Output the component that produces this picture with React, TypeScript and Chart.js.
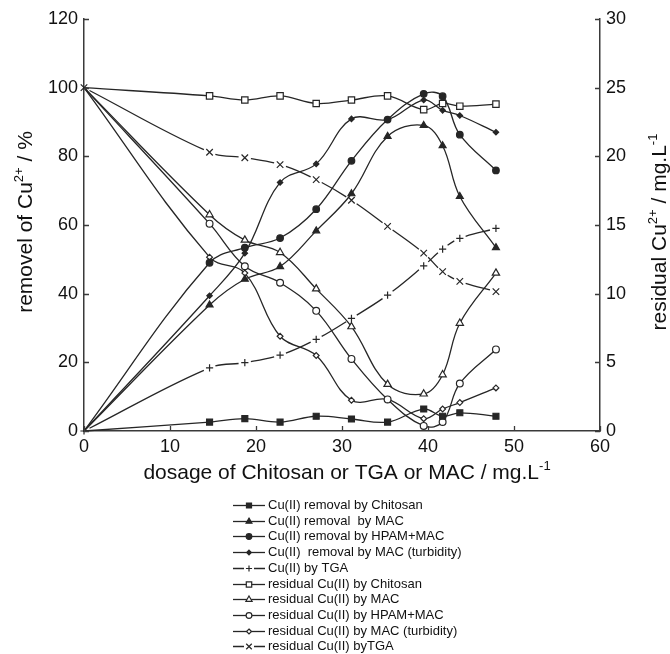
import React, { useEffect, useRef } from 'react';
import { Chart, registerables } from 'chart.js';

Chart.register(...registerables);

// ---------- data ----------
const dosage = [0, 14.6, 18.7, 22.8, 27.0, 31.1, 35.3, 39.5, 41.7, 43.7, 47.9];

const removalChitosan = [0, 2.6, 3.6, 2.6, 4.3, 3.5, 2.6, 6.4, 4.3, 5.3, 4.3];
const removalMAC = [0, 36.7, 44.2, 47.9, 58.3, 69.1, 85.8, 89.0, 83.1, 68.3, 53.4];
const removalHPAM = [0, 49.0, 53.4, 56.2, 64.6, 78.7, 90.7, 98.2, 97.5, 86.3, 75.9];
const removalTurbidity = [0, 39.4, 51.8, 72.4, 77.8, 90.9, 90.7, 96.4, 93.4, 91.9, 87.0];
const removalTGA = [0, 18.4, 19.9, 22.1, 26.7, 32.8, 39.6, 48.1, 53.0, 56.1, 59.0];

const residualChitosan = [25, 24.4, 24.1, 24.4, 23.85, 24.1, 24.4, 23.4, 23.85, 23.65, 23.8];
const residualMAC = [25, 15.75, 13.9, 13.0, 10.35, 7.6, 3.4, 2.7, 4.1, 7.85, 11.5];
const residualHPAM = [25, 15.1, 12.0, 10.8, 8.75, 5.25, 2.3, 0.37, 0.66, 3.46, 5.94];
const residualTurbidity = [25, 12.66, 11.5, 6.9, 5.5, 2.24, 2.3, 0.9, 1.6, 2.07, 3.14];
const residualTGA = [25, 20.3, 19.9, 19.4, 18.3, 16.8, 14.9, 12.95, 11.6, 10.9, 10.15];

const seriesLabels = [
  'Cu(II) removal by Chitosan',
  'Cu(II) removal  by MAC',
  'Cu(II) removal by HPAM+MAC',
  'Cu(II)  removal by MAC (turbidity)',
  'Cu(II) by TGA',
  'residual Cu(II) by Chitosan',
  'residual Cu(II) by MAC',
  'residual Cu(II) by HPAM+MAC',
  'residual Cu(II) by MAC (turbidity)',
  'residual Cu(II) byTGA',
];

const xTicks = [0, 10, 20, 30, 40, 50, 60];
const yLeftTicks = [0, 20, 40, 60, 80, 100, 120];
const yRightTicks = [0, 5, 10, 15, 20, 25, 30];

// ---------- styling ----------
const FONT = '"Liberation Sans", Arial, Helvetica, sans-serif';
const INK = '#262626';
const AXIS = '#3a3a3a';

type Marker = 'rect' | 'triangle' | 'circle' | 'rectRot' | 'cross' | 'crossRot';

const seriesValues = [
  removalChitosan, removalMAC, removalHPAM, removalTurbidity, removalTGA,
  residualChitosan, residualMAC, residualHPAM, residualTurbidity, residualTGA,
];
const seriesAxis = ['y', 'y', 'y', 'y', 'y', 'y1', 'y1', 'y1', 'y1', 'y1'];
const seriesMarker: Marker[] = ['rect', 'triangle', 'circle', 'rectRot', 'cross', 'rect', 'triangle', 'circle', 'rectRot', 'crossRot'];
const seriesFilled = [true, true, true, true, false, false, false, false, false, false];
const seriesRadius = [4.2, 4.0, 3.3, 2.7, 3.6, 4.5, 4.2, 3.4, 2.9, 4.6];
const seriesDashed = [false, false, false, false, true, false, false, false, false, true];

const GAP = 6;

function drawMarker(ctx: CanvasRenderingContext2D, style: Marker, x: number, y: number, r: number, filled: boolean) {
  ctx.save();
  ctx.lineWidth = 1.2;
  ctx.strokeStyle = INK;
  ctx.fillStyle = filled ? INK : '#ffffff';
  ctx.beginPath();
  if (style === 'rect') {
    const s = r * Math.SQRT1_2;
    ctx.rect(x - s, y - s, 2 * s, 2 * s);
  } else if (style === 'triangle') {
    let a = 0;
    ctx.moveTo(x + Math.sin(a) * r, y - Math.cos(a) * r);
    a += (2 * Math.PI) / 3;
    ctx.lineTo(x + Math.sin(a) * r, y - Math.cos(a) * r);
    a += (2 * Math.PI) / 3;
    ctx.lineTo(x + Math.sin(a) * r, y - Math.cos(a) * r);
    ctx.closePath();
  } else if (style === 'circle') {
    ctx.arc(x, y, r, 0, Math.PI * 2);
  } else if (style === 'rectRot') {
    ctx.moveTo(x, y - r);
    ctx.lineTo(x + r, y);
    ctx.lineTo(x, y + r);
    ctx.lineTo(x - r, y);
    ctx.closePath();
  } else if (style === 'cross') {
    ctx.moveTo(x - r, y); ctx.lineTo(x + r, y);
    ctx.moveTo(x, y - r); ctx.lineTo(x, y + r);
  } else {
    const d = r * Math.SQRT1_2;
    ctx.moveTo(x - d, y - d); ctx.lineTo(x + d, y + d);
    ctx.moveTo(x - d, y + d); ctx.lineTo(x + d, y - d);
  }
  if (style !== 'cross' && style !== 'crossRot') ctx.fill();
  ctx.stroke();
  ctx.restore();
}

type Part = { t: string; sup?: boolean };

function drawRich(ctx: CanvasRenderingContext2D, parts: Part[], cx: number, baseY: number, size: number) {
  const supSize = size * 0.62;
  let total = 0;
  for (const p of parts) {
    ctx.font = `${p.sup ? supSize : size}px ${FONT}`;
    total += ctx.measureText(p.t).width;
  }
  let x = cx - total / 2;
  ctx.textAlign = 'left';
  ctx.textBaseline = 'alphabetic';
  for (const p of parts) {
    ctx.font = `${p.sup ? supSize : size}px ${FONT}`;
    ctx.fillText(p.t, x, baseY - (p.sup ? size * 0.42 : 0));
    x += ctx.measureText(p.t).width;
  }
}

const decorPlugin = {
  id: 'decor',
  afterDraw(chart: any) {
    const ctx: CanvasRenderingContext2D = chart.ctx;
    const { x, y, y1 } = chart.scales;
    const area = chart.chartArea;
    ctx.save();
    // inward tick marks
    ctx.strokeStyle = AXIS;
    ctx.lineWidth = 1.3;
    ctx.beginPath();
    for (const v of xTicks) {
      const px = Math.round(x.getPixelForValue(v)) + 0.5;
      ctx.moveTo(px, area.bottom);
      ctx.lineTo(px, area.bottom - 5);
    }
    for (const v of yLeftTicks) {
      const py = Math.round(y.getPixelForValue(v)) + 0.5;
      ctx.moveTo(area.left, py);
      ctx.lineTo(area.left + 5, py);
    }
    for (const v of yRightTicks) {
      const py = Math.round(y1.getPixelForValue(v)) + 0.5;
      ctx.moveTo(area.right, py);
      ctx.lineTo(area.right - 5, py);
    }
    ctx.stroke();

    // axis titles
    ctx.fillStyle = '#111';
    drawRich(ctx, [{ t: 'dosage of Chitosan or TGA or MAC / mg.L' }, { t: '-1', sup: true }], 347, 479, 21);

    ctx.save();
    ctx.translate(32, 222);
    ctx.rotate(-Math.PI / 2);
    drawRich(ctx, [{ t: 'removel of Cu' }, { t: '2+', sup: true }, { t: ' / %' }], 0, 0, 21);
    ctx.restore();

    ctx.save();
    ctx.translate(666, 232);
    ctx.rotate(-Math.PI / 2);
    drawRich(ctx, [{ t: 'residual Cu' }, { t: '2+', sup: true }, { t: ' / mg.L' }, { t: '-1', sup: true }], 0, 0, 21);
    ctx.restore();

    // legend
    const lx0 = 233, lx1 = 265, tx = 268;
    ctx.font = `13px ${FONT}`;
    seriesLabels.forEach((lab, i) => {
      const ly = Math.round(505 + i * 15.7) + 0.5;
      ctx.strokeStyle = INK;
      ctx.lineWidth = 1.3;
      ctx.beginPath();
      if (seriesDashed[i]) {
        ctx.moveTo(lx0, ly); ctx.lineTo(lx0 + 11, ly);
        ctx.moveTo(lx1 - 11, ly); ctx.lineTo(lx1, ly);
      } else {
        ctx.moveTo(lx0, ly); ctx.lineTo(lx1, ly);
      }
      ctx.stroke();
      drawMarker(ctx, seriesMarker[i], (lx0 + lx1) / 2, ly, seriesRadius[i] * 0.85, seriesFilled[i]);
      ctx.fillStyle = '#111';
      ctx.font = `13px ${FONT}`;
      ctx.textAlign = 'left';
      ctx.textBaseline = 'middle';
      ctx.fillText(lab, tx, ly);
    });
    ctx.restore();
  },
};

export default function App() {
  const ref = useRef<HTMLCanvasElement | null>(null);

  useEffect(() => {
    document.body.style.margin = '0';
    const canvas = ref.current;
    if (!canvas) return;

    const datasets = seriesLabels.map((label, i) => {
      const dashed = seriesDashed[i];
      const ds: any = {
        label,
        data: dosage.map((d, k) => ({ x: d, y: seriesValues[i][k] })),
        yAxisID: seriesAxis[i],
        borderColor: INK,
        borderWidth: 1.3,
        tension: 0.38,
        fill: false,
        pointStyle: seriesMarker[i],
        pointRadius: (c: any) => (c.dataIndex === 0 && !dashed ? 0 : seriesRadius[i]),
        pointHoverRadius: seriesRadius[i],
        pointBorderWidth: 1.2,
        pointBorderColor: INK,
        pointBackgroundColor: seriesFilled[i] ? INK : '#ffffff',
        clip: false,
      };
      if (dashed) {
        ds.segment = {
          borderDash: (c: any) => {
            const L = Math.hypot(c.p1.x - c.p0.x, c.p1.y - c.p0.y);
            return [Math.max(L - 2 * GAP, 0.5), 2 * GAP];
          },
          borderDashOffset: (c: any) => {
            const L = Math.hypot(c.p1.x - c.p0.x, c.p1.y - c.p0.y);
            return Math.max(L - 2 * GAP, 0.5) + GAP;
          },
        };
      }
      return ds;
    });

    const tickFont = { family: FONT, size: 18 };

    const chart = new Chart(canvas, {
      type: 'line',
      data: { datasets },
      options: {
        animation: false,
        responsive: false,
        devicePixelRatio: 1,
        events: [],
        layout: { padding: { top: 19, left: 0, right: 0, bottom: 0 } },
        plugins: { legend: { display: false }, tooltip: { enabled: false } },
        scales: {
          x: {
            type: 'linear',
            min: 0,
            max: 60,
            grid: { display: false, drawTicks: false },
            border: { display: true, color: AXIS, width: 1.5 },
            ticks: { stepSize: 10, color: '#111', font: tickFont, padding: 5, maxRotation: 0 },
            afterFit: (s: any) => { s.height = 223; },
          },
          y: {
            type: 'linear',
            position: 'left',
            min: 0,
            max: 120,
            grid: { display: false, drawTicks: false },
            border: { display: true, color: AXIS, width: 1.5 },
            ticks: { stepSize: 20, color: '#111', font: tickFont, padding: 6 },
            afterFit: (s: any) => { s.width = 84; },
          },
          y1: {
            type: 'linear',
            position: 'right',
            min: 0,
            max: 30,
            grid: { display: false, drawTicks: false },
            border: { display: true, color: AXIS, width: 1.5 },
            ticks: { stepSize: 5, color: '#111', font: tickFont, padding: 6 },
            afterFit: (s: any) => { s.width = 70; },
          },
        },
      } as any,
      plugins: [decorPlugin],
    });

    return () => chart.destroy();
  }, []);

  return (
    <div style={{ width: 670, height: 654, background: '#fff' }}>
      <canvas ref={ref} width={670} height={654} style={{ display: 'block', width: 670, height: 654 }} />
    </div>
  );
}
